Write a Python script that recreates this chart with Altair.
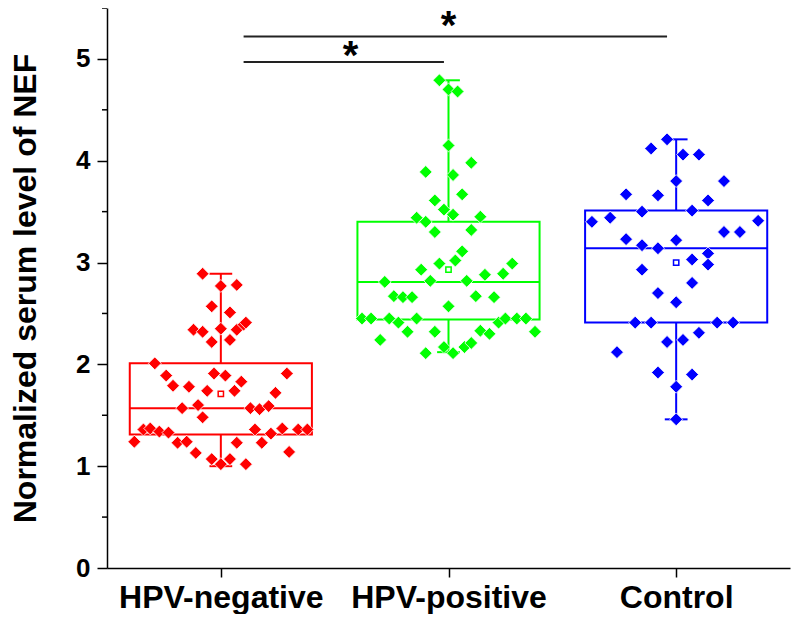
import altair as alt
import pandas as pd

categories = ["HPV-negative", "HPV-positive", "Control"]
colors = ["#FF0000", "#00FF00", "#0000FF"]

# --- individual values (y) and horizontal scatter offsets (category units)
neg_y = [2.89, 2.77, 2.78, 2.57, 2.51, 2.34, 2.32, 2.35, 2.34, 2.39, 2.41, 2.22, 2.24,
         2.01, 1.89, 1.79, 1.78, 1.74, 1.91, 1.89, 1.83, 1.74, 1.91, 1.72, 1.57, 1.60,
         1.48, 1.57, 1.56, 1.59, 1.24, 1.36, 1.37, 1.34, 1.33, 1.23, 1.24, 1.13, 1.07,
         1.02, 1.07, 1.02, 1.23, 1.36, 1.23, 1.32, 1.37, 1.14, 1.36, 1.36]
neg_off = [-0.08, 0.00, 0.07, -0.04, 0.04, -0.12, -0.08, 0.00, 0.07, 0.10, 0.11, -0.04, 0.04,
           -0.29, -0.24, -0.21, -0.14, -0.06, -0.03, 0.02, 0.09, 0.06, 0.29, 0.24, -0.17, -0.10,
           -0.08, 0.13, 0.17, 0.21, -0.38, -0.34, -0.31, -0.27, -0.23, -0.19, -0.15, -0.11, -0.04,
           0.00, 0.04, 0.11, 0.07, 0.15, 0.18, 0.22, 0.27, 0.30, 0.34, 0.38]

pos_y = [4.79, 4.70, 4.68, 4.15, 3.98, 3.89, 3.86, 3.67, 3.61, 3.52, 3.47, 3.44, 3.40,
         3.45, 3.30, 3.32, 3.11, 3.02, 2.99, 2.93, 2.99, 2.89, 2.88, 2.81, 2.82, 2.82,
         2.67, 2.66, 2.66, 2.67, 2.66, 2.57, 2.45, 2.45, 2.45, 2.41, 2.45, 2.41, 2.45,
         2.45, 2.45, 2.32, 2.24, 2.32, 2.32, 2.33, 2.30, 2.11, 2.17, 2.11, 2.17, 2.21]
pos_off = [-0.04, 0.00, 0.04, 0.00, 0.10, -0.10, 0.02, 0.06, -0.06, -0.02, 0.02, -0.14, -0.10,
           0.14, -0.06, 0.10, 0.06, 0.03, -0.04, -0.12, 0.28, 0.24, 0.16, -0.28, -0.08, 0.08,
           -0.24, -0.20, -0.16, 0.12, 0.20, 0.00, -0.38, -0.34, -0.26, -0.22, -0.14, 0.22, 0.25,
           0.30, 0.34, 0.38, -0.30, -0.18, -0.06, 0.14, 0.18, -0.10, -0.02, 0.02, 0.07, 0.10]

ctl_y = [4.21, 4.12, 4.06, 4.06, 3.80, 3.80, 3.67, 3.66, 3.61, 3.50, 3.51, 3.40, 3.44,
         3.41, 3.30, 3.30, 3.23, 3.17, 3.14, 3.22, 3.09, 3.03, 2.98, 2.93, 2.80, 2.70,
         2.61, 2.41, 2.41, 2.41, 2.41, 2.31, 2.22, 2.24, 2.12, 1.92, 1.90, 1.78, 1.46]
ctl_off = [-0.04, -0.11, 0.03, 0.10, 0.00, 0.21, -0.22, -0.08, 0.14, -0.15, 0.07, -0.37, -0.29,
           0.36, 0.21, 0.28, -0.22, -0.15, -0.08, 0.00, 0.14, 0.07, 0.14, -0.15, 0.07, -0.08,
           0.00, -0.18, -0.11, 0.18, 0.25, 0.10, -0.04, 0.03, -0.26, -0.08, 0.07, 0.00, 0.00]

# --- box statistics
q1 = [1.31, 2.44, 2.41]
median = [1.57, 2.81, 3.14]
q3 = [2.01, 3.40, 3.51]
whisk_lo = [1.00, 2.12, 1.46]
whisk_hi = [2.89, 4.79, 4.21]
mean = [1.71, 2.93, 3.00]

# --- significance brackets
sig_x1 = [1.10, 1.10]
sig_x2 = [1.98, 2.96]
sig_y = [4.97, 5.22]
star_x = [1.57, 2.00]
star_y = [4.90, 5.20]
star_txt = ["*", "*"]

major_ticks = [0, 1, 2, 3, 4, 5]
minor_ticks = [0.5, 1.5, 2.5, 3.5, 4.5, 5.5]

FONT = "Liberation Sans"

rows = []
for i, (ys, offs) in enumerate([(neg_y, neg_off), (pos_y, pos_off), (ctl_y, ctl_off)]):
    for y, o in zip(ys, offs):
        rows.append({"group": categories[i], "idx": i + 1, "off": o, "y": y})
pts = pd.DataFrame(rows)

box = pd.DataFrame({"group": categories, "idx": [1, 2, 3], "q1": q1, "median": median,
                    "q3": q3, "lo": whisk_lo, "hi": whisk_hi, "mean": mean})
sig = pd.DataFrame({"x1": sig_x1, "x2": sig_x2, "y": sig_y})
stars = pd.DataFrame({"x": star_x, "y": star_y, "t": star_txt})
minor = pd.DataFrame({"v": minor_ticks})

label_expr = " : ".join(
    [f"datum.value == {i + 1} ? '{c}'" for i, c in enumerate(categories)]) + " : ''"

xscale = alt.Scale(domain=[0.5, 3.5], nice=False, zero=False)
yscale = alt.Scale(domain=[0, 5.5], nice=False, zero=True)
cscale = alt.Scale(domain=categories, range=colors)

x_axis = alt.Axis(values=[1, 2, 3], labelExpr=label_expr, title=None, grid=False,
                  tickSize=9, tickWidth=1.5, tickColor="black", domainColor="black",
                  domainWidth=1.5, labelFont=FONT, labelFontSize=32, labelFontWeight="bold",
                  labelColor="black", labelPadding=5, labelFlush=False, labelOverlap=False,
                  labelLimit=0)
y_axis = alt.Axis(values=major_ticks, title="Normalized serum level of NEF", grid=False,
                  tickSize=10, tickWidth=1.5, tickColor="black", domainColor="black",
                  domainWidth=1.5, labelFont=FONT, labelFontSize=26, labelFontWeight="bold",
                  labelColor="black", labelPadding=7, titleFont=FONT, titleFontSize=32,
                  titleFontWeight="bold", titleColor="black", titleBaseline="alphabetic",
                  titleX=-72, labelFlush=False, titleLimit=0)


def X(field):
    return alt.X(field, scale=xscale, axis=x_axis)


def Y(field):
    return alt.Y(field, scale=yscale, axis=y_axis)


base_box = alt.Chart(box).transform_calculate(
    xl="datum.idx - 0.4", xr="datum.idx + 0.4",
    cl="datum.idx - 0.05", cr="datum.idx + 0.05")

color = alt.Color("group:N", scale=cscale, legend=None)

rect = base_box.mark_rect(fill=None, strokeWidth=2).encode(
    x=X("xl:Q"), x2="xr:Q", y=Y("q1:Q"), y2="q3:Q",
    stroke=alt.Stroke("group:N", scale=cscale, legend=None),
)
med = base_box.mark_rule(strokeWidth=2).encode(
    x=X("xl:Q"), x2="xr:Q", y=Y("median:Q"), color=color)
wh_up = base_box.mark_rule(strokeWidth=2).encode(
    x=X("idx:Q"), y=Y("q3:Q"), y2="hi:Q", color=color)
wh_dn = base_box.mark_rule(strokeWidth=2).encode(
    x=X("idx:Q"), y=Y("lo:Q"), y2="q1:Q", color=color)
cap_up = base_box.mark_rule(strokeWidth=2).encode(
    x=X("cl:Q"), x2="cr:Q", y=Y("hi:Q"), color=color)
cap_dn = base_box.mark_rule(strokeWidth=2).encode(
    x=X("cl:Q"), x2="cr:Q", y=Y("lo:Q"), color=color)

points = alt.Chart(pts).transform_calculate(xpos="datum.idx + datum.off").mark_point(
    shape="diamond", filled=True, size=165, opacity=1, stroke="white", strokeWidth=0.8
).encode(
    x=X("xpos:Q"), y=Y("y:Q"),
    fill=alt.Fill("group:N", scale=cscale, legend=None),
)

mean_pt = base_box.mark_point(shape="square", filled=False, size=28, strokeWidth=1.5,
                              opacity=1).encode(
    x=X("idx:Q"), y=Y("mean:Q"), color=color)

sig_lines = alt.Chart(sig).mark_rule(color="#222222", strokeWidth=2).encode(
    x=X("x1:Q"), x2="x2:Q", y=Y("y:Q"))

star_marks = alt.Chart(stars).mark_text(font=FONT, fontSize=40, fontWeight="bold",
                                        color="black", baseline="alphabetic").encode(
    x=X("x:Q"), y=Y("y:Q"), text="t:N")

minor_marks = alt.Chart(minor).mark_rule(color="black", strokeWidth=1.5).encode(
    y=Y("v:Q"), x=alt.value(-5), x2=alt.value(0))

chart = alt.layer(
    rect, med, wh_up, wh_dn, cap_up, cap_dn, points, mean_pt, sig_lines, star_marks,
    minor_marks
).properties(
    width=683, height=560,
    autosize=alt.AutoSizeParams(type="none"),
    padding={"left": 99, "top": 0, "right": 2, "bottom": 46},
    background="white",
).configure_view(stroke=None)

chart.save("out.html", embed_options={"renderer": "svg", "actions": False})
